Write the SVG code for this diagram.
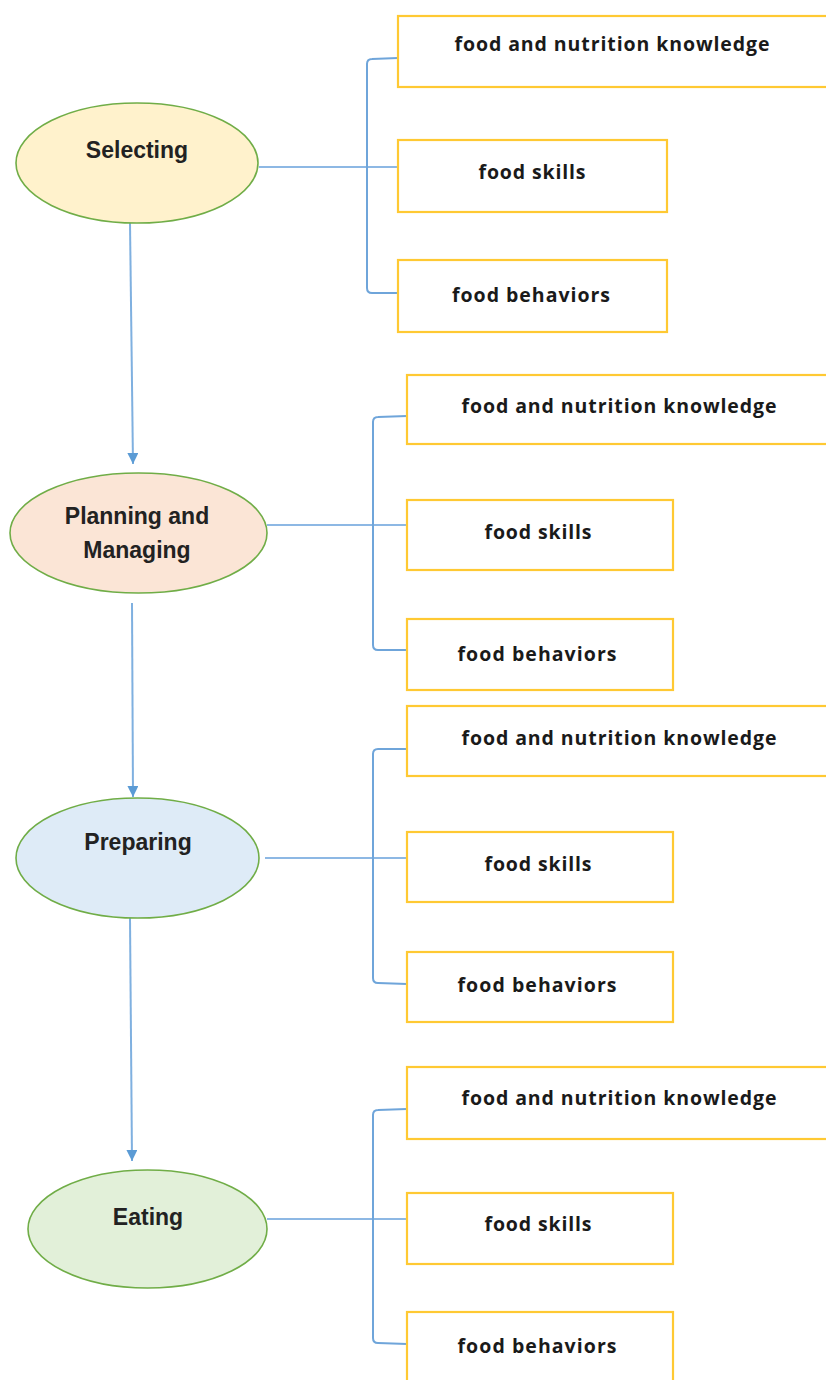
<svg xmlns="http://www.w3.org/2000/svg" width="826" height="1380" viewBox="0 0 826 1380">
  <defs>
    <marker id="arrow" viewBox="0 0 10 10" refX="10" refY="5" markerWidth="12" markerHeight="11" markerUnits="userSpaceOnUse" orient="auto">
      <path d="M0,0 L10,5 L0,10 z" fill="#5B9BD5"/>
    </marker>
    <style>
      .stage { stroke: #70AD47; stroke-width: 1.6; }
      .stage-label { font-family: "Liberation Sans", Arial, sans-serif; font-weight: bold; font-size: 23px; fill: #222222; text-anchor: middle; }
      .item { fill: #FFFFFF; stroke: #FFC933; stroke-width: 2.2; }
      .item-label { font-family: "Open Sans", "Liberation Sans", sans-serif; font-weight: 700; font-size: 19.5px; fill: #1A1A1A; text-anchor: middle; }
      .link { fill: none; stroke: #8DB8E4; stroke-width: 2; }
      .bracket { fill: none; stroke: #6FA5DA; stroke-width: 2; }
      .flow { fill: none; stroke: #7FB0E0; stroke-width: 2; }
    </style>
  </defs>
  <rect width="826" height="1380" fill="#FFFFFF"/>

  <!-- connectors -->
  <g id="connectors">
    <!-- stage-to-stage flow -->
    <path class="flow" d="M130,223 L133,464" marker-end="url(#arrow)"/>
    <path class="flow" d="M132,603 L133,797" marker-end="url(#arrow)"/>
    <path class="flow" d="M130,918 L132,1161" marker-end="url(#arrow)"/>

    <!-- Selecting branches -->
    <path class="link" d="M259,167 L398,167"/>
    <path class="bracket" d="M398,58 L372,59 Q367,59 367,64 L367,288 Q367,293 372,293 L398,293"/>

    <!-- Planning and Managing branches -->
    <path class="link" d="M267,525 L407,525"/>
    <path class="bracket" d="M407,416 L378,417 Q373,417 373,422 L373,645 Q373,650 378,650 L407,650"/>

    <!-- Preparing branches -->
    <path class="link" d="M265,858 L407,858"/>
    <path class="bracket" d="M407,749 L378,749 Q373,749 373,754 L373,978 Q373,983 378,983 L407,984"/>

    <!-- Eating branches -->
    <path class="link" d="M267,1219 L407,1219"/>
    <path class="bracket" d="M407,1109 L378,1110 Q373,1110 373,1115 L373,1338 Q373,1343 378,1343 L407,1344"/>
  </g>

  <!-- stage: Selecting -->
  <g id="stage-selecting">
    <ellipse class="stage" cx="137" cy="163" rx="121" ry="60" fill="#FFF2CC"/>
    <text class="stage-label" x="137" y="158">Selecting</text>
  </g>
  <g id="selecting-knowledge">
    <rect class="item" x="398" y="16" width="440" height="71"/>
    <text class="item-label" x="612" y="51" textLength="315">food and nutrition knowledge</text>
  </g>
  <g id="selecting-skills">
    <rect class="item" x="398" y="140" width="269" height="72"/>
    <text class="item-label" x="532" y="179" textLength="107">food skills</text>
  </g>
  <g id="selecting-behaviors">
    <rect class="item" x="398" y="260" width="269" height="72"/>
    <text class="item-label" x="531" y="302" textLength="158">food behaviors</text>
  </g>

  <!-- stage: Planning and Managing -->
  <g id="stage-planning">
    <ellipse class="stage" cx="138.5" cy="533" rx="128.5" ry="60" fill="#FBE5D6"/>
    <text class="stage-label" x="137" y="524">Planning and</text>
    <text class="stage-label" x="137" y="558">Managing</text>
  </g>
  <g id="planning-knowledge">
    <rect class="item" x="407" y="375" width="440" height="69"/>
    <text class="item-label" x="619" y="413" textLength="315">food and nutrition knowledge</text>
  </g>
  <g id="planning-skills">
    <rect class="item" x="407" y="500" width="266" height="70"/>
    <text class="item-label" x="538" y="539" textLength="107">food skills</text>
  </g>
  <g id="planning-behaviors">
    <rect class="item" x="407" y="619" width="266" height="71"/>
    <text class="item-label" x="537" y="661" textLength="159">food behaviors</text>
  </g>

  <!-- stage: Preparing -->
  <g id="stage-preparing">
    <ellipse class="stage" cx="137.5" cy="858" rx="121.5" ry="60" fill="#DEEBF7"/>
    <text class="stage-label" x="138" y="850">Preparing</text>
  </g>
  <g id="preparing-knowledge">
    <rect class="item" x="407" y="706" width="440" height="70"/>
    <text class="item-label" x="619" y="745" textLength="315">food and nutrition knowledge</text>
  </g>
  <g id="preparing-skills">
    <rect class="item" x="407" y="832" width="266" height="70"/>
    <text class="item-label" x="538" y="871" textLength="107">food skills</text>
  </g>
  <g id="preparing-behaviors">
    <rect class="item" x="407" y="952" width="266" height="70"/>
    <text class="item-label" x="537" y="992" textLength="159">food behaviors</text>
  </g>

  <!-- stage: Eating -->
  <g id="stage-eating">
    <ellipse class="stage" cx="147.5" cy="1229" rx="119.5" ry="59" fill="#E2F0D9"/>
    <text class="stage-label" x="148" y="1225">Eating</text>
  </g>
  <g id="eating-knowledge">
    <rect class="item" x="407" y="1067" width="440" height="72"/>
    <text class="item-label" x="619" y="1105" textLength="315">food and nutrition knowledge</text>
  </g>
  <g id="eating-skills">
    <rect class="item" x="407" y="1193" width="266" height="71"/>
    <text class="item-label" x="538" y="1231" textLength="107">food skills</text>
  </g>
  <g id="eating-behaviors">
    <rect class="item" x="407" y="1312" width="266" height="90"/>
    <text class="item-label" x="537" y="1353" textLength="159">food behaviors</text>
  </g>
</svg>
